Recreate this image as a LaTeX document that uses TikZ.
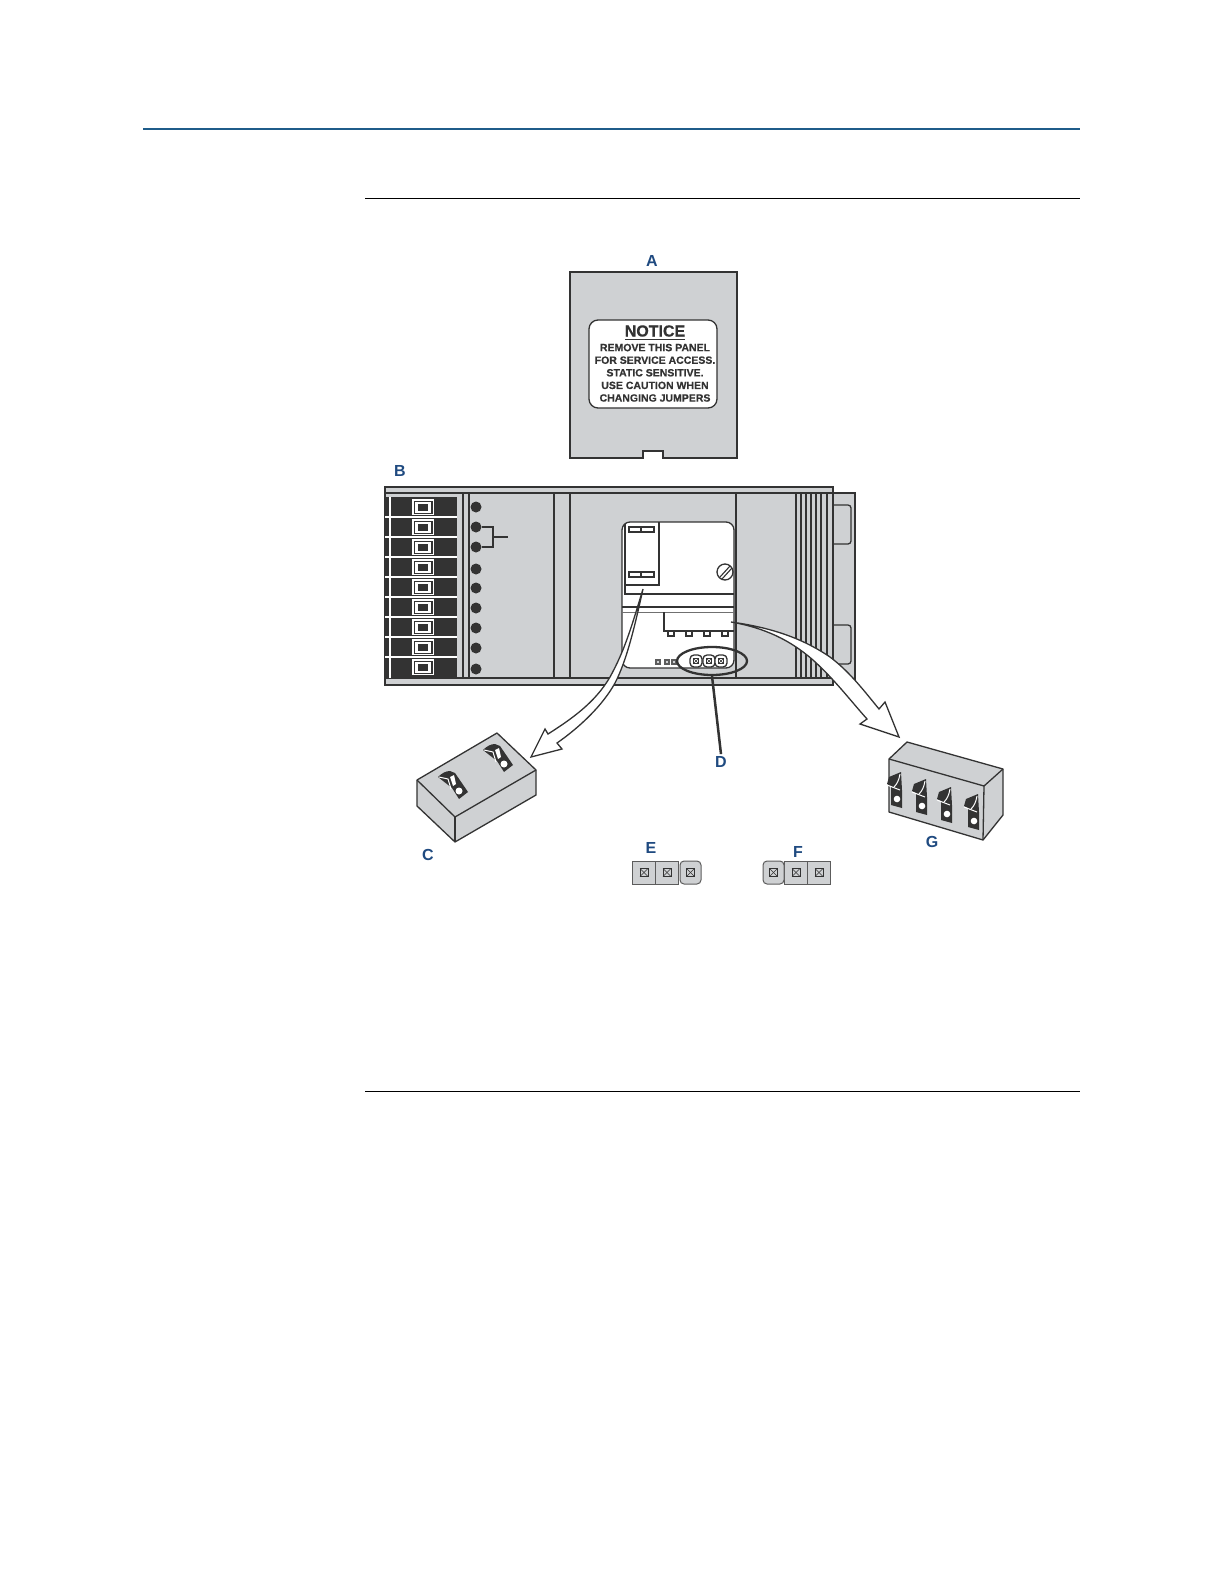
\documentclass[tikz,border=0pt]{standalone}
\usepackage{fontspec}
\setmainfont{Liberation Sans}
\newfontfamily\noticefont[FakeBold=0.5]{Liberation Sans}
\usetikzlibrary{positioning,shapes.geometric}
\definecolor{PanelGray}{HTML}{CFD1D3}
\definecolor{PartDark}{HTML}{333333}
\definecolor{LabelBlue}{HTML}{1F4A80}
\definecolor{RuleBlue}{HTML}{1F5C8A}
\tikzset{
  partline/.style={draw=PartDark,line width=0.65pt},
  panelpart/.style={partline,fill=PanelGray},
  thinpart/.style={draw=PartDark,line width=0.55pt},
  calllabel/.style={font=\fontsize{8}{9}\selectfont\bfseries,text=LabelBlue,inner sep=1pt},
  noticetext/.style={font=\noticefont\fontsize{5.25}{6.3}\selectfont\bfseries,align=center,text=PartDark,inner sep=0pt},
  blockarrow/.style={draw=PartDark,line width=0.65pt,fill=white,line join=miter},
  jumperbox/.style={draw=PartDark!80,line width=0.5pt,fill=PanelGray,minimum width=11.5pt,minimum height=11.5pt,inner sep=0pt},
  leddot/.style={circle,fill=PartDark,minimum size=5.5pt,inner sep=0pt}
}
\begin{document}
\begin{tikzpicture}[x=0.5pt,y=-0.5pt]
\useasboundingbox (0,0) rectangle (1224,1584);
% page rules
\draw[draw=RuleBlue,line width=0.6pt] (143,129) -- (1080,129);
\draw[line width=0.5pt] (365,198) -- (1080,198);
\draw[line width=0.5pt] (365,1091) -- (1080,1091);
% cover panel
\draw[panelpart] (570,272) -- (737,272) -- (737,458) -- (663,458) -- (663,451) -- (643,451) -- (643,458) -- (570,458) -- cycle;
\draw[partline,fill=white,rounded corners=4.5pt] (589,320) rectangle (717,408);
\node[calllabel] (labelA) at (652,261) {A};
\node[font=\noticefont\fontsize{8}{9}\selectfont\bfseries,text=PartDark,inner sep=0pt] (noticehead) at (655,333) {\underline{NOTICE}};
\node[noticetext,below=1.2pt of noticehead] (noticebody) {REMOVE THIS PANEL\\FOR SERVICE ACCESS.\\STATIC SENSITIVE.\\USE CAUTION WHEN\\CHANGING JUMPERS};
% chassis
\draw[panelpart] (833,493) -- (855,493) -- (855,680) -- (833,680);
\draw[partline,rounded corners=1.5pt] (833,505) -- (851,505) -- (851,544) -- (833,544);
\draw[partline,rounded corners=1.5pt] (833,625) -- (851,625) -- (851,664) -- (833,664);
\draw[panelpart] (385,487) rectangle (833,685);
\draw[partline] (385,493) -- (833,493);
\draw[partline] (385,678) -- (833,678);
\fill[PartDark] (385,497) rectangle (457,678);
\draw[white,line width=0.7pt] (390,497) -- (390,678);
\foreach \rowy in {517,537,557,577,597,617,637,657}{
  \draw[white,line width=0.7pt] (385,\rowy) -- (457,\rowy);
}
\foreach \rowy in {507,527,547,567,587,607,627,647,667}{
  \fill[white] (412,\rowy-8) rectangle (434,\rowy+8);
  \fill[PartDark] (413.5,\rowy-6.5) rectangle (432.5,\rowy+6.5);
  \fill[white] (415,\rowy-5.5) rectangle (431,\rowy+5.5);
  \fill[PartDark] (418,\rowy-3.5) rectangle (428,\rowy+3.5);
}
\foreach \linex in {463,469,554,570,736,796,801,806,811,816,821,827}{
  \draw[thinpart] (\linex,493) -- (\linex,678);
}
% indicator dots
\node[leddot] (led1) at (476,507) {};
\node[leddot] (led2) at (476,527) {};
\node[leddot] (led3) at (476,547) {};
\node[leddot] (led4) at (476,569) {};
\node[leddot] (led5) at (476,588) {};
\node[leddot] (led6) at (476,608) {};
\node[leddot] (led7) at (476,628) {};
\node[leddot] (led8) at (476,648) {};
\node[leddot] (led9) at (476,669) {};
\coordinate (ledfork) at (493,537);
\coordinate (ledstem) at (508,537);
\draw[thinpart] (led2) -| (ledfork) |- (led3);
\draw[thinpart] (ledfork) -- (ledstem);
% window in the chassis
\draw[partline,fill=white,rounded corners=4pt] (622,522) rectangle (734,668);
\draw[thinpart] (625,524) -- (625,594) -- (734,594);
\draw[thinpart] (625,585) -- (659,585) -- (659,522);
\draw[partline] (622,607) -- (734,607);
\draw[draw=PartDark!70,line width=0.4pt] (622,612) -- (734,612);
\draw[thinpart] (629,527) rectangle (654,532);
\draw[thinpart] (641,527) -- (641,532);
\draw[thinpart] (629,572) rectangle (654,577);
\draw[thinpart] (641,572) -- (641,577);
\draw[partline,fill=white] (725,572) circle (8);
\draw[thinpart] (720,577) -- (730,566);
\draw[thinpart] (722,579) -- (732,568);
\draw[thinpart] (664,612) -- (664,631) -- (734,631);
\foreach \pinx in {671,689,707,725}{
  \draw[thinpart] (\pinx-3,631) rectangle (\pinx+3,636);
}
\foreach \padx in {658,667,674}{
  \draw[draw=PartDark!80,line width=0.7pt,fill=PanelGray] (\padx-2,660) rectangle (\padx+2,664);
}
% jumper on the board
\foreach \padx in {696,709,721}{
  \draw[partline,fill=white,rounded corners=2pt] (\padx-6,655) rectangle (\padx+6,667);
  \draw[draw=PartDark,line width=0.3pt] (\padx-2.5,658.5) rectangle (\padx+2.5,663.5);
  \draw[draw=PartDark,line width=0.3pt] (\padx-2.5,658.5) -- (\padx+2.5,663.5);
  \draw[draw=PartDark,line width=0.3pt] (\padx-2.5,663.5) -- (\padx+2.5,658.5);
}
\node[ellipse,draw=PartDark,line width=1.15pt,minimum width=35pt,minimum height=14pt,inner sep=0pt] (jumperring) at (712,661) {};
\node[calllabel] (labelD) at (721,762) {D};
\draw[draw=PartDark,line width=1.25pt] (jumperring.south) -- (labelD.north);
\node[calllabel] (labelB) at (400,471) {B};
% block arrows
\draw[blockarrow] (643,589) .. controls (632,625) and (625,650) .. (610,677) .. controls (595,703) and (570,720) .. (548,734) -- (545,729) -- (531,757) -- (562,749) -- (557,743) .. controls (580,727) and (603,705) .. (615,683) .. controls (627,660) and (635,625) .. (643,589) -- cycle;
\draw[blockarrow] (731,622) .. controls (775,628) and (805,640) .. (830,657) .. controls (850,672) and (865,692) .. (879,709) -- (885,702) -- (899,737) -- (860,724) -- (867,719) .. controls (850,700) and (835,680) .. (813,660) .. controls (790,640) and (765,628) .. (731,622) -- cycle;
% two position switch
\draw[panelpart,line join=round] (417,780) -- (497,733) -- (536,770) -- (536,795) -- (455,842) -- (417,806) -- cycle;
\draw[partline] (417,780) -- (455,817) -- (536,770);
\draw[partline] (455,817) -- (455,842);
\foreach \togx/\togy in {0/0,45/-27}{
  \begin{scope}[shift={(\togx,\togy)}]
    \fill[PartDark] (438,777) .. controls (442,773) and (446,771) .. (450,771) -- (455,773) -- (468,792) -- (459,799) -- (452,788) -- cycle;
    \draw[white,line width=0.5pt] (439,777) -- (448,779) -- (451,789);
    \fill[white] (450,777) -- (454,775) -- (456,784) -- (453,786) -- cycle;
    \fill[white] (459,791) circle (3.5);
  \end{scope}
}
% four position switch
\draw[panelpart,line join=round] (907,742) -- (1003,769) -- (1003,815) -- (983,840) -- (889,812) -- (889,759) -- cycle;
\draw[partline] (889,759) -- (984,786) -- (1003,769);
\draw[partline] (984,786) -- (983,840);
\foreach \togx/\togy in {0/0,25/7,50/15,77/22}{
  \begin{scope}[shift={(\togx,\togy)}]
    \fill[PartDark] (887,784) -- (889,777) -- (901,772) -- (902,790) -- (902,808) -- (891,805) -- (891,786) -- cycle;
    \draw[white,line width=0.5pt] (887,785) -- (900,790);
    \draw[white,line width=0.5pt] (894,787) .. controls (897,784) and (899,780) .. (900,774);
    \fill[white] (897,799) circle (3.3);
  \end{scope}
}
\node[calllabel] (labelC) at (428,855) {C};
\node[calllabel] (labelG) at (932,842) {G};
% jumper settings
\node[calllabel] (labelE) at (651,848) {E};
\node[calllabel] (labelF) at (798,852) {F};
\node[jumperbox] (epin1) at (644,872.5) {};
\node[jumperbox] (epin2) at (667,872.5) {};
\draw[draw=PartDark!80,line width=0.5pt,fill=PanelGray,rounded corners=2pt] (680,861) rectangle (701,884);
\node[jumperbox] (fpin2) at (796,872.5) {};
\node[jumperbox] (fpin3) at (819,872.5) {};
\draw[draw=PartDark!80,line width=0.5pt,fill=PanelGray,rounded corners=2pt] (763,861) rectangle (784,884);
\foreach \padx in {644,667,690.5,773.5,796,819}{
  \draw[draw=PartDark,line width=0.3pt] (\padx-4,868.5) rectangle (\padx+4,876.5);
  \draw[draw=PartDark,line width=0.3pt] (\padx-4,868.5) -- (\padx+4,876.5);
  \draw[draw=PartDark,line width=0.3pt] (\padx-4,876.5) -- (\padx+4,868.5);
}
\end{tikzpicture}
\end{document}
